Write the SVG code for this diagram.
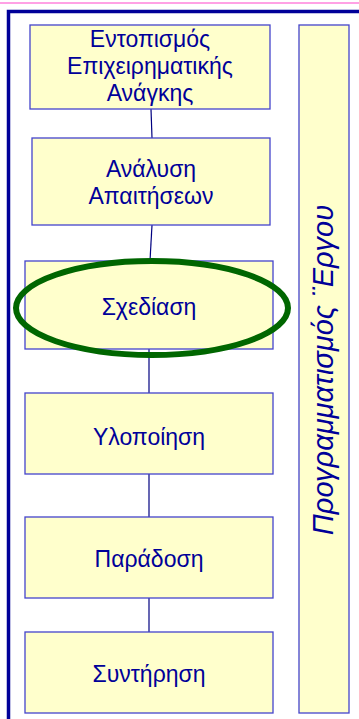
<svg xmlns="http://www.w3.org/2000/svg" width="359" height="719" viewBox="0 0 359 719">
  <style>
    .box { fill: #ffffcc; stroke: #4444cc; stroke-width: 1.3; }
    .lbl { font-family: "Liberation Sans", Arial, sans-serif; font-size: 23px; fill: #000099; text-anchor: middle; }
    .vert { font-size: 29px; font-style: italic; }
    .conn { stroke: #000080; stroke-width: 1.2; fill: none; }
  </style>
  <rect x="0" y="0" width="359" height="719" fill="#ffffff"/>
  <line x1="0" y1="3" x2="359" y2="3" stroke="#ff44cc" stroke-width="1.2"/>
  <path d="M8.5 719 V11.5 H359" fill="none" stroke="#000099" stroke-width="3.5"/>
  <g id="connectors">
    <line class="conn" x1="151" y1="109" x2="152" y2="138"/>
    <line class="conn" x1="152" y1="225" x2="150" y2="261"/>
    <line class="conn" x1="149" y1="349" x2="149" y2="393"/>
    <line class="conn" x1="149" y1="474" x2="149" y2="517"/>
    <line class="conn" x1="149" y1="598" x2="149" y2="632"/>
  </g>
  <g id="n1">
    <rect class="box" x="30" y="25" width="240" height="84"/>
    <text class="lbl" x="150" y="47">Εντοπισμός</text>
    <text class="lbl" x="150" y="74">Επιχειρηματικής</text>
    <text class="lbl" x="150" y="101">Ανάγκης</text>
  </g>
  <g id="n2">
    <rect class="box" x="32" y="138" width="238" height="87"/>
    <text class="lbl" x="151" y="177">Ανάλυση</text>
    <text class="lbl" x="151" y="204">Απαιτήσεων</text>
  </g>
  <g id="n3">
    <rect class="box" x="25" y="261" width="248" height="88"/>
    <text class="lbl" x="149" y="315">Σχεδίαση</text>
  </g>
  <g id="n4">
    <rect class="box" x="25" y="393" width="248" height="81"/>
    <text class="lbl" x="149" y="445">Υλοποίηση</text>
  </g>
  <g id="n5">
    <rect class="box" x="25" y="517" width="248" height="81"/>
    <text class="lbl" x="149" y="567">Παράδοση</text>
  </g>
  <g id="n6">
    <rect class="box" x="25" y="632" width="248" height="81"/>
    <text class="lbl" x="149" y="682">Συντήρηση</text>
  </g>
  <g id="n7">
    <rect class="box" x="299" y="25" width="50" height="688"/>
    <text class="lbl vert" transform="translate(333 370) rotate(-90)">Προγραμματισμός ¨Εργου</text>
  </g>
  <g id="highlight">
    <ellipse cx="152" cy="308" rx="136" ry="47" fill="none" stroke="#006600" stroke-width="6"/>
  </g>
</svg>
